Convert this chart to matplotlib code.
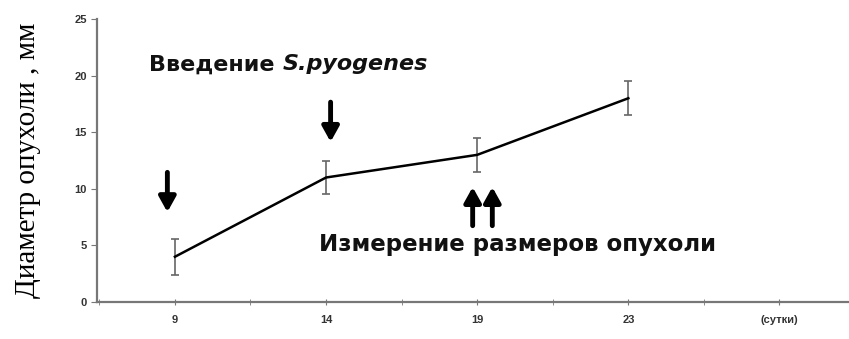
import matplotlib.pyplot as plt

# data
days = ["9", "14", "19", "23", "(сутки)"]
diam = [4.0, 11.0, 13.0, 18.0]
err = [1.6, 1.5, 1.5, 1.5]
pos = [0, 1, 2, 3]

fig = plt.figure(figsize=(8.49, 3.39), dpi=100)
ax = fig.add_axes([0.114, 0.109, 0.886, 0.835])

ax.errorbar(pos, diam, yerr=err, color="black", lw=1.8,
            ecolor="#666666", elinewidth=1.2, capsize=3, capthick=1.2)

ax.set_xlim(-0.517, 4.46)
ax.set_ylim(0, 25)
ax.set_yticks(range(0, 26, 5))
ax.set_xticks(range(len(days)))
ax.set_xticks([-0.5, 0.5, 1.5, 2.5, 3.5], minor=True)
ax.set_xticklabels(days)

for s in ["top", "right"]:
    ax.spines[s].set_visible(False)
for s in ["left", "bottom"]:
    ax.spines[s].set_color("#777777")
    ax.spines[s].set_linewidth(1.6)

ax.tick_params(axis="x", which="both", direction="inout", length=4, color="#777777", pad=7)
ax.tick_params(axis="y", direction="out", length=4, color="#777777", pad=3)
for lab in ax.get_xticklabels() + ax.get_yticklabels():
    lab.set_fontsize(8)
    lab.set_fontfamily("Liberation Sans")
    lab.set_fontweight("bold")
    lab.set_color("#333333")

ax.set_ylabel("Диаметр опухоли , мм", fontsize=21, family="Liberation Serif", labelpad=24)

# annotations
t1 = ax.text(-0.17, 21, "Введение ", fontsize=16, fontweight="bold",
             family="DejaVu Sans", va="center", color="#111111")
ax.annotate("S.pyogenes", xy=(1, 0.5), xycoords=t1, va="center", ha="left",
            fontsize=16, fontstyle="italic", fontweight="bold", family="DejaVu Sans",
            color="#111111")
ax.text(0.95, 5.05, "Измерение размеров опухоли", fontsize=16.5, fontweight="bold",
        family="DejaVu Sans", va="center", color="#111111")

arr = dict(arrowstyle="-|>,head_length=0.9,head_width=0.5", lw=3.5, color="black")
ax.annotate("", xy=(-0.05, 7.7), xytext=(-0.05, 11.7), arrowprops=arr)
ax.annotate("", xy=(1.03, 13.9), xytext=(1.03, 17.9), arrowprops=arr)
ax.annotate("", xy=(1.97, 10.4), xytext=(1.97, 6.5), arrowprops=arr)
ax.annotate("", xy=(2.10, 10.4), xytext=(2.10, 6.5), arrowprops=arr)

fig.savefig("out.png", dpi=100)
